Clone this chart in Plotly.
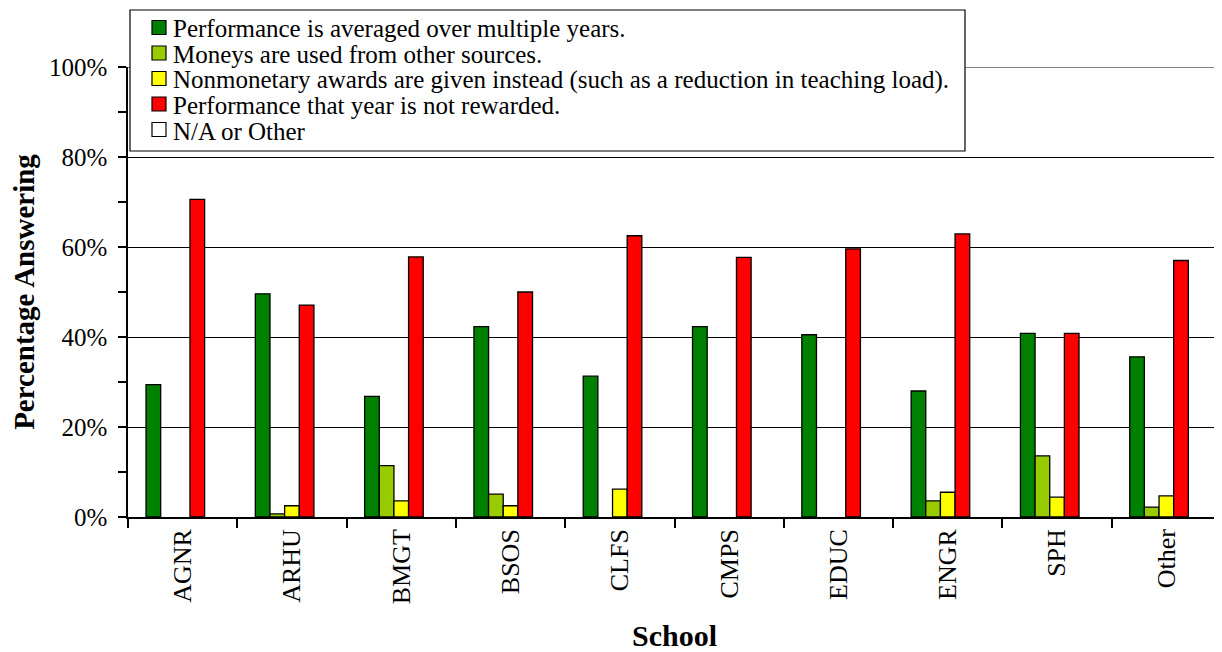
import plotly.graph_objects as go

schools = ["AGNR", "ARHU", "BMGT", "BSOS", "CLFS", "CMPS", "EDUC", "ENGR", "SPH", "Other"]
averaged = [29.4, 49.6, 26.8, 42.3, 31.3, 42.3, 40.5, 28.0, 40.8, 35.6]
other_sources = [None, 0.7, 11.4, 5.1, None, None, None, 3.6, 13.6, 2.2]
nonmonetary = [None, 2.5, 3.6, 2.5, 6.2, None, None, 5.5, 4.4, 4.7]
not_rewarded = [70.6, 47.1, 57.8, 50.0, 62.5, 57.7, 59.6, 62.9, 40.8, 57.0]
na_other = [None] * 10

series_names = [
    "Performance is averaged over multiple years.",
    "Moneys are used from other sources.",
    "Nonmonetary awards are given instead (such as a reduction in teaching load).",
    "Performance that year is not rewarded.",
    "N/A or Other",
]
series_values = [averaged, other_sources, nonmonetary, not_rewarded, na_other]
series_colors = ["#008000", "#99CC00", "#FFFF00", "#FF0000", "#FFFFFF"]

FONT = "Liberation Serif"

# figure geometry (page body has an 8px margin)
W, H = 1214, 644
ML, MR, MT, MB = 120, 1, 59, 135
PW, PH = W - ML - MR, H - MT - MB


def px_x(x):
    return (x - ML) / PW


def px_y(y):
    return (H - MB - y) / PH


fig = go.Figure()
for name, vals, color in zip(series_names, series_values, series_colors):
    fig.add_trace(go.Bar(
        x=schools, y=vals, name=name, showlegend=False,
        marker=dict(color=color, line=dict(color="black", width=1.3)),
    ))

shapes = [
    dict(type="line", xref="paper", yref="y", x0=0, x1=1, y0=100, y1=100,
         line=dict(color="#808080", width=2), layer="above"),
    # legend box
    dict(type="rect", xref="paper", yref="paper",
         x0=px_x(122), x1=px_x(957), y0=px_y(143), y1=px_y(2),
         line=dict(color="black", width=1.2), fillcolor="white", layer="above"),
]
annotations = []
row0, row_step = 19.5, 25.5
for i, (name, color) in enumerate(zip(series_names, series_colors)):
    cy = row0 + i * row_step
    shapes.append(dict(type="rect", xref="paper", yref="paper",
                       x0=px_x(144), x1=px_x(158), y0=px_y(cy + 7), y1=px_y(cy - 7),
                       line=dict(color="black", width=1.2), fillcolor=color, layer="above"))
    annotations.append(dict(xref="paper", yref="paper", x=px_x(163), y=px_y(cy + 1.5),
                            xanchor="left", yanchor="middle", showarrow=False,
                            text=name, font=dict(family=FONT, size=25, color="black")))

fig.update_layout(
    width=W, height=H,
    paper_bgcolor="white", plot_bgcolor="white",
    barmode="group", bargap=0.33, bargroupgap=0,
    margin=dict(l=ML, r=MR, t=MT, b=MB, autoexpand=False),
    font=dict(family=FONT, size=24, color="black"),
    showlegend=False,
    shapes=shapes,
    annotations=annotations,
)

fig.update_xaxes(
    type="category", showline=True, linecolor="black", linewidth=1.5,
    ticks="outside", tickson="boundaries", ticklen=9, tickcolor="black", tickwidth=1.5,
    tickangle=-90, tickfont=dict(family=FONT, size=26),
    showgrid=False, automargin=False,
    title=dict(text="<b>School</b>", font=dict(family=FONT, size=30), standoff=22),
)

fig.update_yaxes(
    range=[0, 100], dtick=20, ticksuffix="%",
    showline=True, linecolor="black", linewidth=1.5,
    ticks="outside", ticklen=8, tickcolor="black", tickwidth=1.5,
    minor=dict(dtick=10, ticks="outside", ticklen=8, tickcolor="black", tickwidth=1.5, showgrid=False),
    showgrid=True, gridcolor="black", gridwidth=1.3,
    zeroline=False, automargin=False,
    tickfont=dict(family=FONT, size=25), ticklabelstandoff=6,
    title=dict(text="<b>Percentage Answering</b>", font=dict(family=FONT, size=29), standoff=13),
)

fig.write_html("out.html")
